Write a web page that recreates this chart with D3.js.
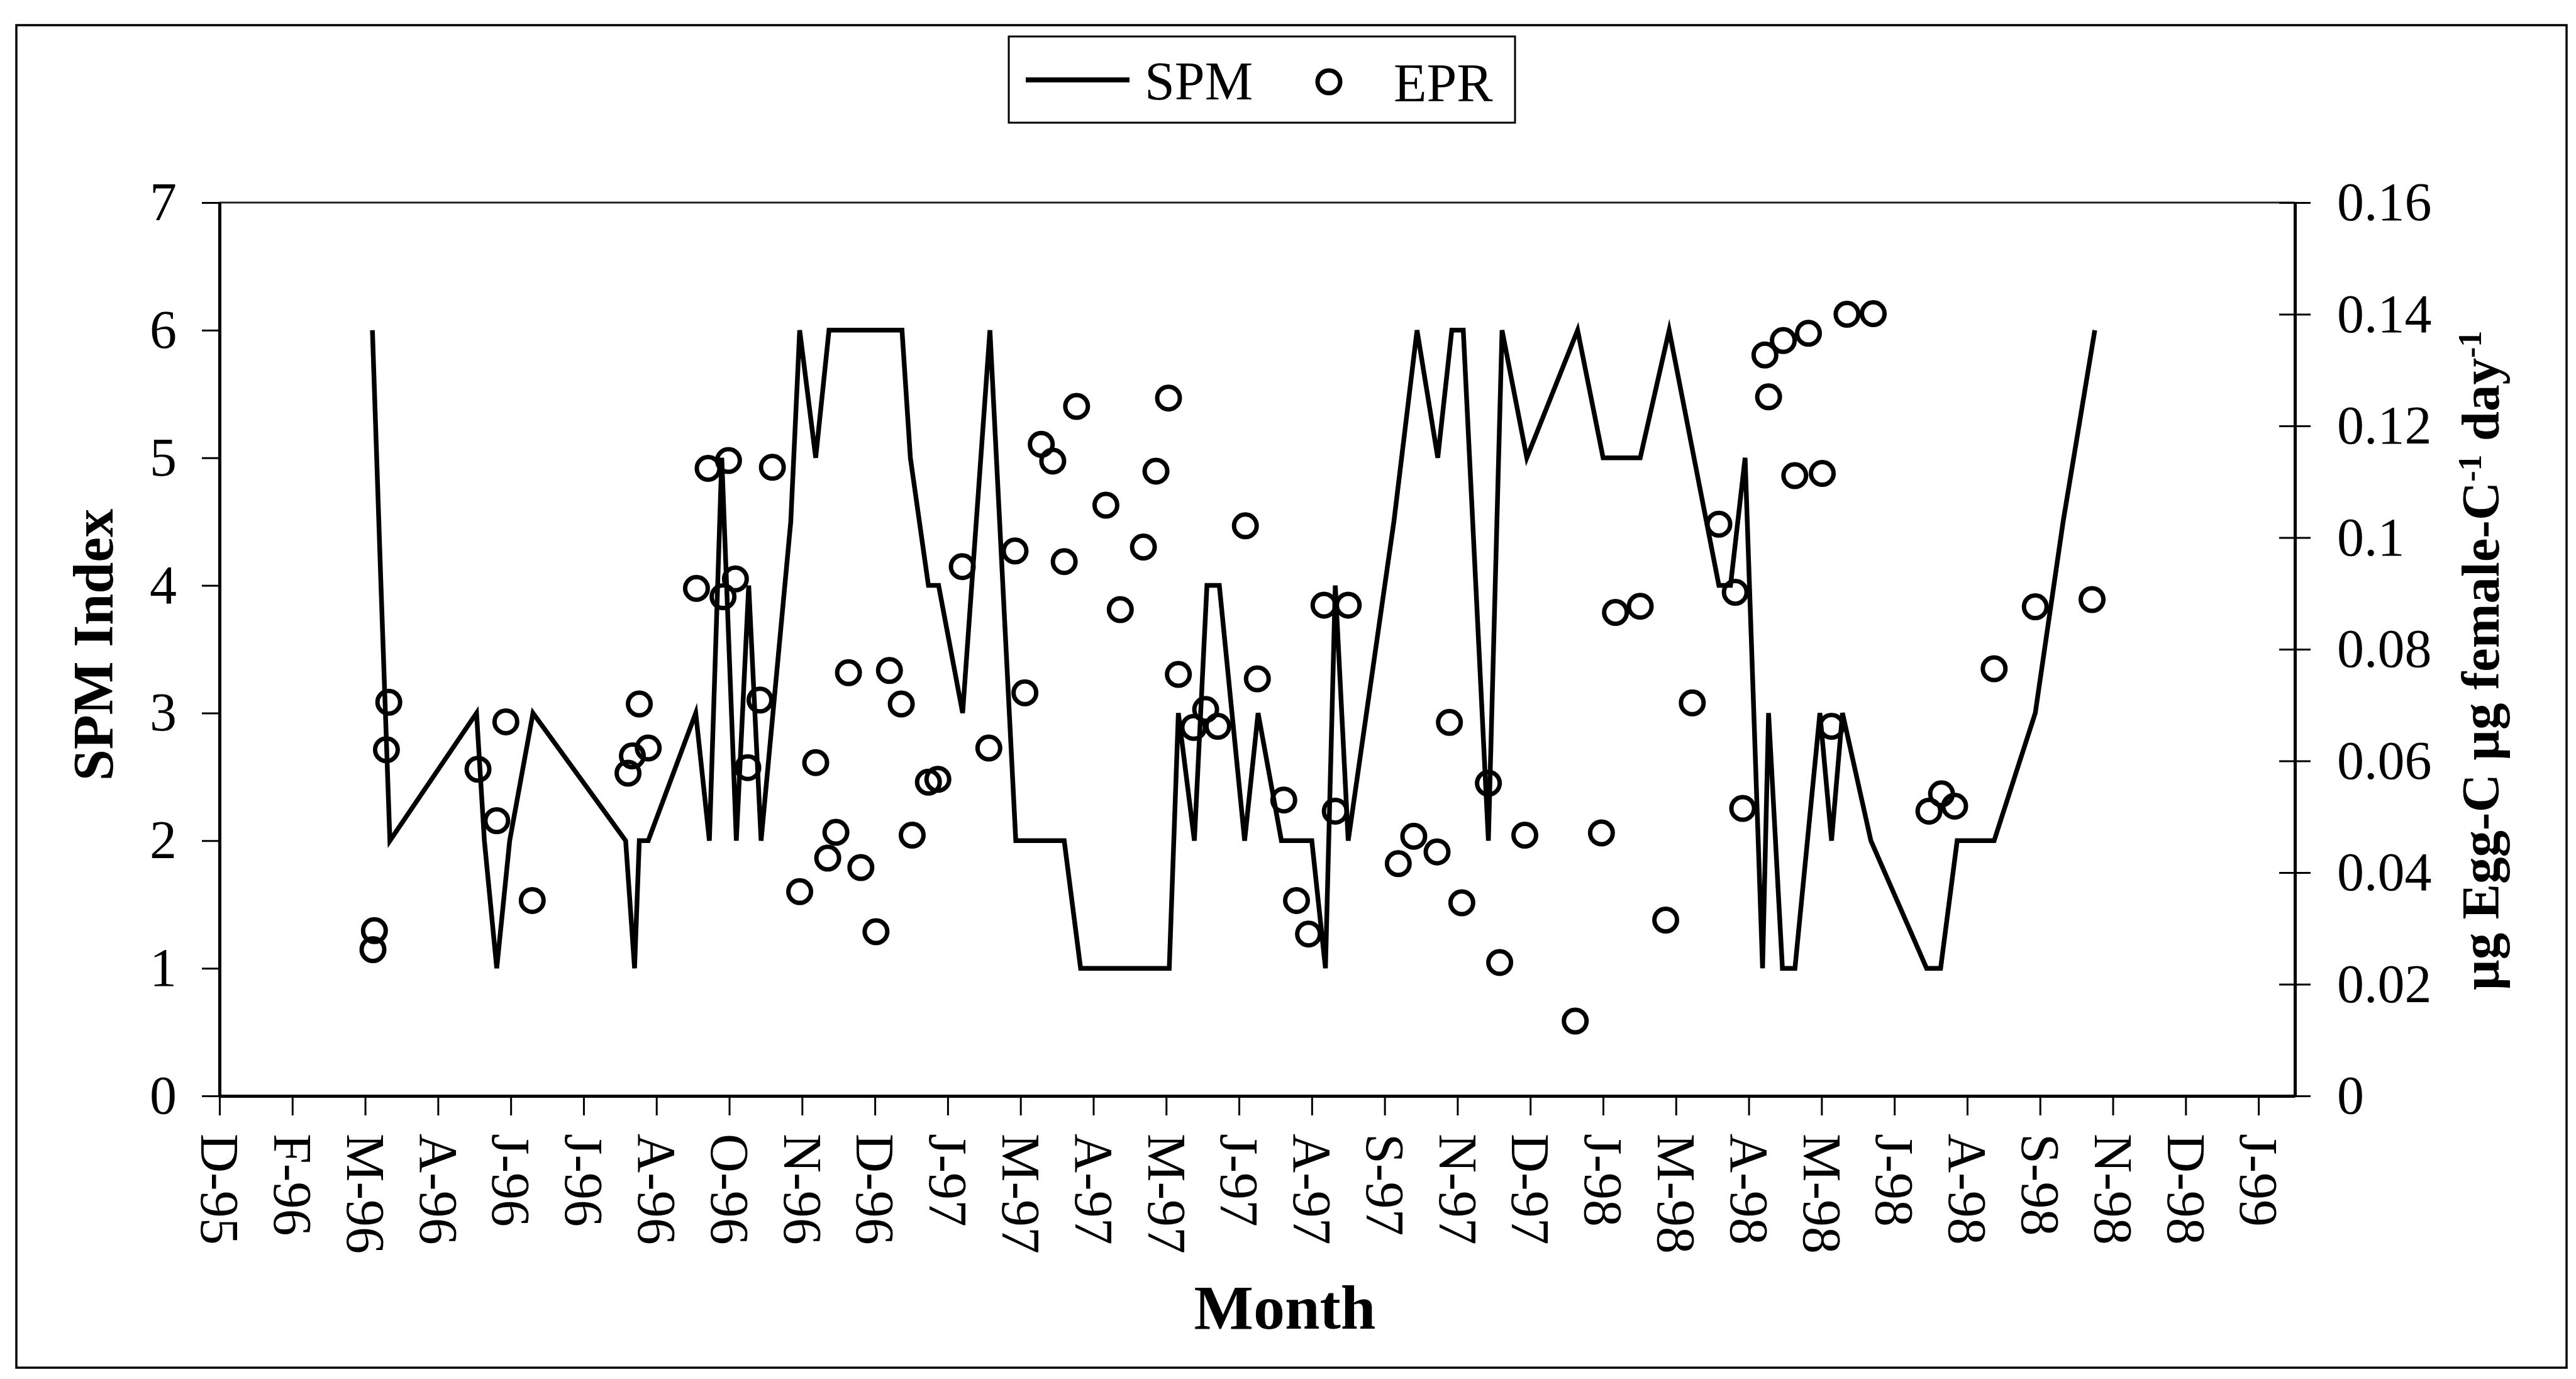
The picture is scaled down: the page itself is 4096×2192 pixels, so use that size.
<!DOCTYPE html>
<html>
<head>
<meta charset="utf-8">
<script src="https://cdn.jsdelivr.net/npm/d3@7"></script>
<style>
  html, body { margin: 0; padding: 0; background: #fff; }
  svg { display: block; }
  text { font-family: "Liberation Serif", "Times New Roman", serif; fill: #000; }
</style>
</head>
<body>
<svg id="chart" width="4096" height="2192"></svg>
<script>
// Date axis: origin of the axis and one label every 40 days
const axisOrigin = new Date(1995, 11, 28);
const axisLengthDays = 1140;
const tickStepDays = 40;
const monthTickLabels = ["D-95", "F-96", "M-96", "A-96", "J-96", "J-96", "A-96", "O-96", "N-96",
  "D-96", "J-97", "M-97", "A-97", "M-97", "J-97", "A-97", "S-97", "N-97", "D-97", "J-98",
  "M-98", "A-98", "M-98", "J-98", "A-98", "S-98", "N-98", "D-98", "J-99"];

// Left axis ticks (SPM index) and right axis ticks (egg production rate)
const spmTicks = [0, 1, 2, 3, 4, 5, 6, 7];
const eprTicks = [0, 0.02, 0.04, 0.06, 0.08, 0.1, 0.12, 0.14, 0.16];

// SPM index series: sampling day (days after axis origin) and index value
const spmDays = [84, 88.7, 93.6, 141.2, 145.5, 152.3, 159.4, 172.2, 223.1, 228.0, 230.6, 235.5,
  261.6, 269.1, 275.9, 283.9, 290.7, 297.5, 313.8, 318.7, 327.5, 334.8, 374.9, 379.5, 389.4,
  395.0, 408.2, 423.2, 437.4, 464.0, 473.0, 521.7, 526.7, 535.5, 542.4, 549.2, 563.1, 570.5,
  583.3, 600.0, 607.5, 612.9, 620.0, 645.1, 657.8, 669.2, 676.9, 683.2, 697.0, 704.5, 718.1,
  746.0, 760.0, 780.4, 796.3, 823.6, 830.0, 838.0, 847.6, 850.9, 858.5, 865.4, 879.1, 885.5,
  891.5, 907.1, 937.7, 945.4, 954.5, 974.8, 997.4, 1012.7, 1030.1];
const spmValues = [6, 4, 2, 3, 2, 1, 2, 3, 2, 1, 2, 2,
  3, 2, 5, 2, 4, 2, 4.5, 6, 5, 6, 6, 5, 4,
  4, 3, 6, 2, 2, 1, 1, 3, 2, 4, 4, 2, 3,
  2, 2, 1, 4, 2, 4.5, 6, 5, 6, 6, 2, 6, 5,
  6, 5, 5, 6, 4, 4, 5, 1, 3, 1, 1, 3, 2,
  3, 2, 1, 1, 2, 2, 3, 4.5, 6];

// Egg production rate (ug egg-C ug female-C^-1 day^-1): sampling day and value
const eprDays = [84.3, 85.1, 91.7, 93.0, 142.0, 152.3, 157.3, 171.8, 224.4, 226.8, 230.6, 235.5,
  262.0, 268.4, 276.6, 279.6, 283.4, 290.2, 296.9, 303.7, 318.7, 327.5, 334.1, 338.6, 345.5,
  352.3, 360.6, 368.0, 374.5, 380.5, 389.4, 394.6, 408.0, 422.6, 437.0, 442.4, 451.4, 457.7,
  464.0, 470.8, 486.9, 494.8, 507.5, 514.4, 521.3, 526.7, 535.1, 541.7, 548.4, 563.5, 570.1,
  584.6, 591.6, 598.2, 606.7, 612.9, 620.0, 647.5, 656.0, 668.8, 675.6, 682.4, 697.0, 703.2,
  717.0, 744.7, 759.1, 766.8, 780.4, 794.4, 809.0, 823.6, 832.6, 836.7, 848.9, 850.9, 859.0,
  865.3, 872.8, 880.4, 885.5, 894.0, 908.4, 939.0, 945.9, 953.1, 974.8, 997.4, 1028.6];
const eprValues = [0.0262, 0.0296, 0.0620, 0.0705, 0.0585, 0.0493, 0.0670, 0.0350, 0.0578, 0.0609, 0.0702, 0.0623,
  0.0909, 0.1124, 0.0894, 0.1138, 0.0926, 0.0588, 0.0709, 0.1126, 0.0366, 0.0597, 0.0426, 0.0472, 0.0758,
  0.0409, 0.0294, 0.0762, 0.0702, 0.0467, 0.0562, 0.0567, 0.0948, 0.0623, 0.0976, 0.0722, 0.1167, 0.1137,
  0.0957, 0.1235, 0.1058, 0.0871, 0.0983, 0.1119, 0.1250, 0.0755, 0.0660, 0.0692, 0.0662, 0.1021, 0.0747,
  0.0530, 0.0350, 0.0290, 0.0879, 0.0510, 0.0879, 0.0416, 0.0465, 0.0437, 0.0669, 0.0346, 0.0560, 0.0239,
  0.0467, 0.0134, 0.0471, 0.0866, 0.0877, 0.0315, 0.0704, 0.1024, 0.0902, 0.0515, 0.1327, 0.1252, 0.1353,
  0.1111, 0.1366, 0.1115, 0.0662, 0.1400, 0.1401, 0.0510, 0.0541, 0.0519, 0.0765, 0.0876, 0.0889];

const dayMs = 864e5;
const toDate = d => new Date(axisOrigin.getTime() + d * dayMs);

const svg = d3.select("#chart");
const plot = { left: 349, right: 3649, top: 322, bottom: 1742 };

// Outer frame around the whole figure
svg.append("rect")
  .attr("x", 26).attr("y", 40).attr("width", 4055).attr("height", 2134)
  .attr("fill", "none").attr("stroke", "#000").attr("stroke-width", 3.5);

const x = d3.scaleTime()
  .domain([axisOrigin, toDate(axisLengthDays)])
  .range([plot.left, plot.right]);
const yLeft = d3.scaleLinear().domain([0, 7]).range([plot.bottom, plot.top]);
const yRight = d3.scaleLinear().domain([0, 0.16]).range([plot.bottom, plot.top]);

// Plot area top border
svg.append("line")
  .attr("x1", plot.left).attr("x2", plot.right)
  .attr("y1", plot.top).attr("y2", plot.top)
  .attr("stroke", "#222").attr("stroke-width", 3);

// Bottom (month) axis with vertical labels
const tickDates = monthTickLabels.map((_, i) => toDate(i * tickStepDays));
const xAxis = svg.append("g")
  .attr("transform", `translate(0,${plot.bottom})`)
  .call(d3.axisBottom(x).tickValues(tickDates).tickSize(31).tickSizeOuter(0)
    .tickFormat((d, i) => monthTickLabels[i]));
xAxis.selectAll("text")
  .attr("x", 0).attr("y", 0).attr("dy", "0.34em")
  .attr("transform", "translate(0,60) rotate(90)")
  .style("text-anchor", "start")
  .style("font-size", "86px")
  .style("font-family", "'Liberation Serif', serif");

// Left axis (SPM index)
const leftAxis = svg.append("g")
  .attr("transform", `translate(${plot.left},0)`)
  .call(d3.axisLeft(yLeft).tickValues(spmTicks).tickSize(28).tickSizeOuter(0)
    .tickPadding(40).tickFormat(d3.format("d")));
leftAxis.selectAll("text")
  .style("font-size", "86px")
  .style("font-family", "'Liberation Serif', serif");

// Right axis (EPR), ticks crossing the axis line
const rightAxis = svg.append("g")
  .attr("transform", `translate(${plot.right},0)`)
  .call(d3.axisRight(yRight).tickValues(eprTicks).tickSize(25).tickSizeOuter(0)
    .tickPadding(42).tickFormat(v => String(+v.toFixed(2))));
rightAxis.selectAll(".tick line").attr("x1", -25);
rightAxis.selectAll("text")
  .style("font-size", "86px")
  .style("font-family", "'Liberation Serif', serif");

[xAxis, leftAxis, rightAxis].forEach(g => {
  g.select(".domain").attr("stroke", "#000").attr("stroke-width", 5);
  g.selectAll(".tick line").attr("stroke", "#000").attr("stroke-width", 3);
});

// SPM index line
const spmData = spmDays.map((d, i) => ({ date: toDate(d), value: spmValues[i] }));
svg.append("path")
  .datum(spmData)
  .attr("fill", "none")
  .attr("stroke", "#000")
  .attr("stroke-width", 7.5)
  .attr("stroke-linejoin", "miter")
  .attr("stroke-miterlimit", 6)
  .attr("d", d3.line().x(p => x(p.date)).y(p => yLeft(p.value)));

// EPR open circles
const eprData = eprDays.map((d, i) => ({ date: toDate(d), value: eprValues[i] }));
svg.append("g")
  .selectAll("circle")
  .data(eprData)
  .join("circle")
  .attr("cx", p => x(p.date))
  .attr("cy", p => yRight(p.value))
  .attr("r", 18)
  .attr("fill", "none")
  .attr("stroke", "#000")
  .attr("stroke-width", 7);

// Axis titles
svg.append("text")
  .attr("transform", `translate(179,1025) rotate(-90)`)
  .attr("text-anchor", "middle")
  .style("font-size", "90px").style("font-weight", "bold")
  .text("SPM Index");

const rightTitle = svg.append("text")
  .attr("transform", `translate(3973,1050) rotate(-90)`)
  .attr("text-anchor", "middle")
  .style("font-size", "85px").style("font-weight", "bold");
rightTitle.append("tspan").text("\u00b5g Egg-C \u00b5g female-C");
rightTitle.append("tspan").attr("baseline-shift", "super").style("font-size", "52px").text("-1");
rightTitle.append("tspan").text(" day");
rightTitle.append("tspan").attr("baseline-shift", "super").style("font-size", "52px").text("-1");

svg.append("text")
  .attr("x", 2043).attr("y", 2112)
  .attr("text-anchor", "middle")
  .style("font-size", "100px").style("font-weight", "bold")
  .text("Month");

// Legend
const legend = svg.append("g");
legend.append("rect")
  .attr("x", 1604).attr("y", 58).attr("width", 805).attr("height", 137)
  .attr("fill", "#fff").attr("stroke", "#000").attr("stroke-width", 3);
legend.append("line")
  .attr("x1", 1631).attr("x2", 1796).attr("y1", 127).attr("y2", 127)
  .attr("stroke", "#000").attr("stroke-width", 8);
legend.append("text")
  .attr("x", 1820).attr("y", 158)
  .style("font-size", "86px")
  .text("SPM");
legend.append("circle")
  .attr("cx", 2113).attr("cy", 130).attr("r", 18)
  .attr("fill", "none").attr("stroke", "#000").attr("stroke-width", 7);
legend.append("text")
  .attr("x", 2216).attr("y", 161)
  .style("font-size", "86px")
  .text("EPR");
</script>
</body>
</html>
